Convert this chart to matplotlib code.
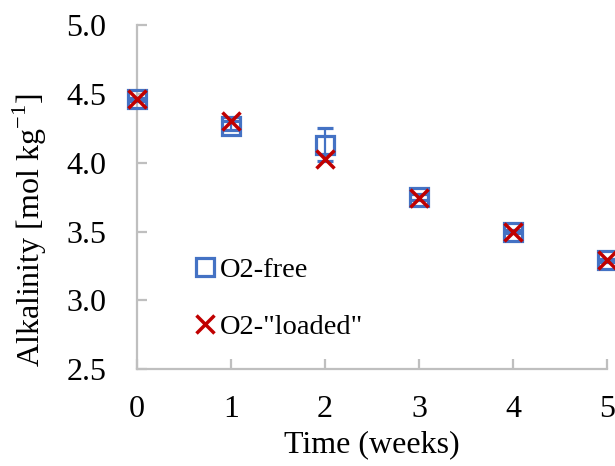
import matplotlib
matplotlib.use("Agg")
import matplotlib.pyplot as plt

plt.rcParams['font.family'] = ['Liberation Serif', 'DejaVu Serif']
plt.rcParams['mathtext.fontset'] = 'custom'
plt.rcParams['mathtext.rm'] = 'Liberation Serif'

weeks = [0, 1, 2, 3, 4, 5]
o2_free = [4.46, 4.27, 4.13, 3.75, 3.50, 3.29]
o2_free_err = [0.01, 0.03, 0.12, 0.02, 0.01, 0.01]
o2_loaded = [4.46, 4.30, 4.03, 3.74, 3.50, 3.29]
xticks = [0, 1, 2, 3, 4, 5]
yticks = [2.5, 3.0, 3.5, 4.0, 4.5, 5.0]

fig = plt.figure(figsize=(6.15, 4.66), dpi=100)
ax = fig.add_axes([0.2228, 0.208, 0.7642, 0.738])

blue = '#4472C4'
red = '#C00000'
gray = '#BFBFBF'

eb = ax.errorbar(weeks, o2_free, yerr=o2_free_err, fmt='s', ms=12.5, mfc='none',
                 mec=blue, mew=2.3, ecolor=blue, elinewidth=1.6, capsize=6, capthick=1.6,
                 clip_on=False, zorder=3)
ln, = ax.plot(weeks, o2_loaded, 'x', ms=13, mec=red, mew=2.5,
              clip_on=False, zorder=4)

ax.set_xlim(0, 5)
ax.set_ylim(2.5, 5.0)
ax.set_xticks(xticks)
ax.set_yticks(yticks)
ax.set_yticklabels([f'{v:.1f}' for v in yticks])

for s in ['top', 'right']:
    ax.spines[s].set_visible(False)
for s in ['left', 'bottom']:
    ax.spines[s].set_color(gray)
    ax.spines[s].set_linewidth(1.6)

ax.tick_params(axis='both', direction='in', length=7, width=1.6, color=gray,
               labelsize=23, labelcolor='#000000')
ax.tick_params(axis='y', pad=22)
ax.tick_params(axis='x', pad=19)

ax.set_xlabel('Time (weeks)', fontsize=23, labelpad=4.5)
ax.set_ylabel(r'Alkalinity [mol kg$^{\mathregular{-1}}$]', fontsize=23)
ax.yaxis.set_label_coords(-0.188, 0.404)

leg = ax.legend([eb[0], ln], ['O2-free', 'O2-"loaded"'], loc='center left',
                bbox_to_anchor=(0.10, 0.206),
                frameon=False, fontsize=20.5, handlelength=0.7, handletextpad=0.15,
                labelspacing=1.1, borderaxespad=0)

fig.savefig('out.png', dpi=100)
